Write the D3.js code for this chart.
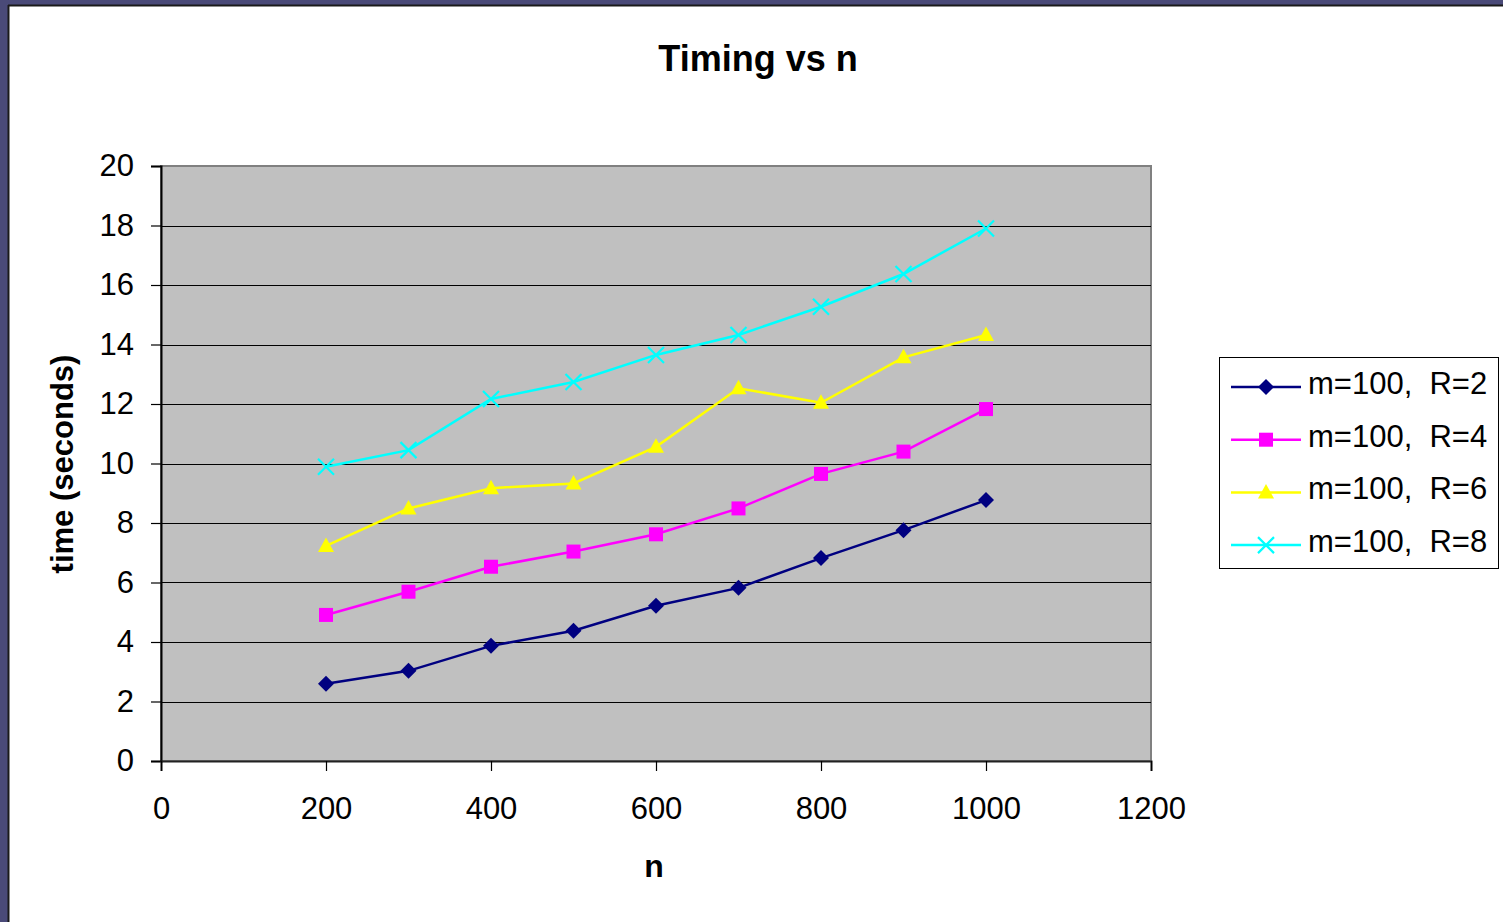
<!DOCTYPE html>
<html>
<head>
<meta charset="utf-8">
<script src="https://cdn.jsdelivr.net/npm/d3@7"></script>
<style>
  html, body { margin: 0; padding: 0; background: #4a4a78; }
  svg { display: block; font-family: Arial, "Liberation Sans", sans-serif; }
</style>
</head>
<body>
<div id="chart"></div>
<script>
// data
var nValues = [200, 300, 400, 500, 600, 700, 800, 900, 1000];
var seriesNames = ["m=100,  R=2", "m=100,  R=4", "m=100,  R=6", "m=100,  R=8"];
var timesR2 = [2.6, 3.03, 3.87, 4.38, 5.22, 5.82, 6.82, 7.76, 8.77];
var timesR4 = [4.91, 5.69, 6.53, 7.04, 7.62, 8.49, 9.65, 10.4, 11.83];
var timesR6 = [7.23, 8.49, 9.17, 9.33, 10.56, 12.53, 12.04, 13.57, 14.32];
var timesR8 = [9.89, 10.45, 12.17, 12.74, 13.65, 14.32, 15.27, 16.37, 17.9];
var xTicks = [0, 200, 400, 600, 800, 1000, 1200];
var yTicks = [0, 2, 4, 6, 8, 10, 12, 14, 16, 18, 20];

var colors = ["#000080", "#ff00ff", "#ffff00", "#00ffff"];
var markers = ["diamond", "square", "triangle", "cross"];

var width = 1503, height = 922;
var plot = { left: 161, top: 166, right: 1151, bottom: 761 };

var svg = d3.select("#chart")
    .append("svg")
    .attr("width", width)
    .attr("height", height);

// white chart page with dark edge (slide frame)
svg.append("rect")
    .attr("x", 9).attr("y", 6)
    .attr("width", width - 9).attr("height", height - 6)
    .attr("fill", "#ffffff");
svg.append("line").attr("x1", 8.5).attr("x2", 8.5).attr("y1", 5).attr("y2", height)
    .attr("stroke", "#1a1a1a").attr("stroke-width", 2);
svg.append("line").attr("x1", 8).attr("x2", width).attr("y1", 5.5).attr("y2", 5.5)
    .attr("stroke", "#1a1a1a").attr("stroke-width", 2);

var x = d3.scaleLinear().domain([0, 1200]).range([plot.left, plot.right]);
var y = d3.scaleLinear().domain([0, 20]).range([plot.bottom, plot.top]);

// plot area
svg.append("rect")
    .attr("x", plot.left).attr("y", plot.top)
    .attr("width", plot.right - plot.left).attr("height", plot.bottom - plot.top)
    .attr("fill", "#c0c0c0")
    .attr("stroke", "#808080")
    .attr("stroke-width", 2);

// gridlines
svg.append("g")
    .selectAll("line")
    .data(yTicks.filter(function (d) { return d > 0 && d < 20; }))
    .enter()
    .append("line")
    .attr("x1", plot.left).attr("x2", plot.right)
    .attr("y1", function (d) { return Math.round(y(d)) + 0.5; })
    .attr("y2", function (d) { return Math.round(y(d)) + 0.5; })
    .attr("stroke", "#000000")
    .attr("stroke-width", 1);

// axes
var yAxis = svg.append("g")
    .attr("transform", "translate(" + plot.left + ",0)")
    .call(d3.axisLeft(y).tickValues(yTicks).tickSize(10).tickPadding(17).tickFormat(d3.format("d")));
var xAxis = svg.append("g")
    .attr("transform", "translate(0," + plot.bottom + ")")
    .call(d3.axisBottom(x).tickValues(xTicks).tickSize(10).tickPadding(20).tickFormat(d3.format("d")));

[yAxis, xAxis].forEach(function (a) {
    a.select(".domain").attr("stroke", "#000000").attr("stroke-width", 2);
    a.selectAll(".tick line").attr("stroke", "#000000").attr("stroke-width", 1.2);
    a.selectAll(".tick text")
        .attr("fill", "#000000")
        .style("font-size", "31px")
        .style("font-family", "Arial, 'Liberation Sans', sans-serif");
});
xAxis.selectAll(".tick text").attr("dy", "0.9em");
xAxis.select(".domain").attr("stroke", "#222222");

// titles
svg.append("text")
    .attr("x", 758).attr("y", 71)
    .attr("text-anchor", "middle")
    .style("font-size", "36px").style("font-weight", "bold")
    .text("Timing vs n");
svg.append("text")
    .attr("x", 654).attr("y", 877)
    .attr("text-anchor", "middle")
    .style("font-size", "32px").style("font-weight", "bold")
    .text("n");
svg.append("text")
    .attr("transform", "translate(73,464) rotate(-90)")
    .attr("text-anchor", "middle")
    .style("font-size", "31px").style("font-weight", "bold")
    .text("time (seconds)");

// marker drawing
function drawMarker(g, type, color) {
    if (type === "diamond") {
        g.append("path").attr("d", "M0,-8L8,0L0,8L-8,0Z").attr("fill", color);
    } else if (type === "square") {
        g.append("rect").attr("x", -7).attr("y", -7).attr("width", 14).attr("height", 14).attr("fill", color);
    } else if (type === "triangle") {
        g.append("path").attr("d", "M0,-8.5L8,6L-8,6Z").attr("fill", color);
    } else {
        g.append("path").attr("d", "M-8,-8L8,8M8,-8L-8,8")
            .attr("stroke", color).attr("stroke-width", 2.2).attr("fill", "none");
    }
}

var allSeries = [timesR2, timesR4, timesR6, timesR8];
var line = d3.line()
    .x(function (d, i) { return x(nValues[i]); })
    .y(function (d) { return y(d); });

allSeries.forEach(function (vals, s) {
    var g = svg.append("g").attr("class", "series");
    g.append("path")
        .datum(vals)
        .attr("d", line)
        .attr("fill", "none")
        .attr("stroke", colors[s])
        .attr("stroke-width", 2.5);
    g.selectAll("g.pt")
        .data(vals)
        .enter()
        .append("g")
        .attr("class", "pt")
        .attr("transform", function (d, i) { return "translate(" + x(nValues[i]) + "," + y(d) + ")"; })
        .each(function () { drawMarker(d3.select(this), markers[s], colors[s]); });
});

// legend
var legend = svg.append("g").attr("transform", "translate(1219,357)");
legend.append("rect")
    .attr("x", 0.5).attr("y", 0.5)
    .attr("width", 279).attr("height", 211)
    .attr("fill", "#ffffff")
    .attr("stroke", "#000000")
    .attr("stroke-width", 1);
seriesNames.forEach(function (name, s) {
    var row = legend.append("g").attr("transform", "translate(0," + (30 + s * 52.7) + ")");
    row.append("line")
        .attr("x1", 12).attr("x2", 82)
        .attr("stroke", colors[s]).attr("stroke-width", 2.5);
    drawMarker(row.append("g").attr("transform", "translate(47,0)"), markers[s], colors[s]);
    row.append("text")
        .attr("x", 89).attr("y", 7)
        .style("font-size", "31px")
        .style("white-space", "pre")
        .attr("xml:space", "preserve")
        .text(name);
});
</script>
</body>
</html>
